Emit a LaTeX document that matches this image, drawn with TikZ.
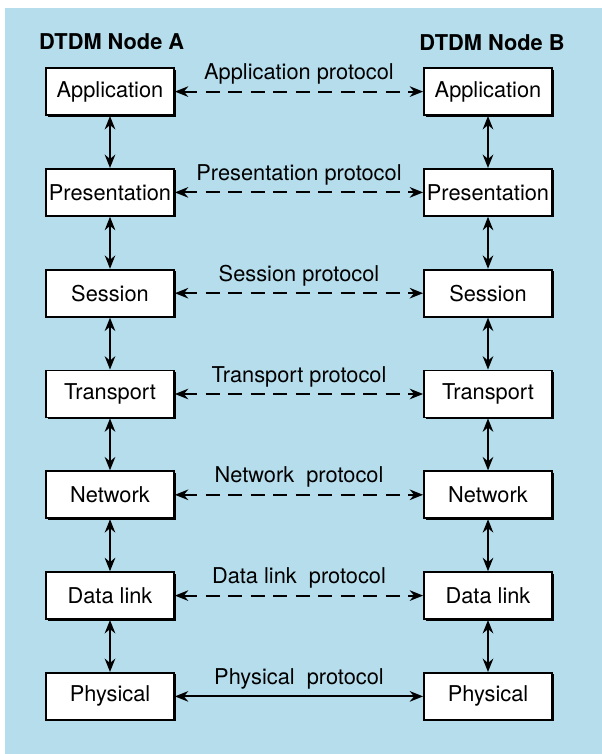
\documentclass[tikz,border=0pt]{standalone}
\usepackage{fontspec}
\setmainfont{TeX Gyre Heros}
\usetikzlibrary{arrows.meta,shadows}
\definecolor{paleblue}{RGB}{181,221,236}

\begin{document}
\begin{tikzpicture}[line width=1.3pt,
  layer/.style={draw,fill=white,minimum width=3.2cm,minimum height=1.175cm,inner sep=0pt,
    font=\fontsize{15.5}{18}\selectfont,
    drop shadow={shadow xshift=1.1pt,shadow yshift=-1.1pt,fill=black,opacity=1}},
  head/.style={font=\fontsize{15.5}{18}\selectfont\bfseries},
  lbl/.style={midway,anchor=base,yshift=8.5pt,font=\fontsize{15.5}{18}\selectfont},
  updown/.style={{Stealth[length=9.5pt,width=7.5pt]}-{Stealth[length=9.5pt,width=7.5pt]}},
  peer/.style={updown,dash pattern=on 10pt off 6pt}]
\useasboundingbox (0,0) rectangle (15.05,-18.85);
\fill[paleblue] (0.12,-0.2) rectangle (15.05,-18.85);
\node[head] (ha) at (2.79,-1.05) {DTDM Node A};
\node[head] (hb) at (12.3,-1.075) {DTDM Node B};
\node[layer] (a1) at (2.75,-2.29) {Application};
\node[layer] (a2) at (2.75,-4.81) {Presentation};
\node[layer] (a3) at (2.75,-7.33) {Session};
\node[layer] (a4) at (2.75,-9.85) {Transport};
\node[layer] (a5) at (2.75,-12.37) {Network};
\node[layer] (a6) at (2.75,-14.89) {Data link};
\node[layer] (a7) at (2.75,-17.41) {Physical};
\node[layer] (b1) at (12.2,-2.29) {Application};
\node[layer] (b2) at (12.2,-4.81) {Presentation};
\node[layer] (b3) at (12.2,-7.33) {Session};
\node[layer] (b4) at (12.2,-9.85) {Transport};
\node[layer] (b5) at (12.2,-12.37) {Network};
\node[layer] (b6) at (12.2,-14.89) {Data link};
\node[layer] (b7) at (12.2,-17.41) {Physical};
\draw[updown] (a1) -- (a2);
\draw[updown] (a2) -- (a3);
\draw[updown] (a3) -- (a4);
\draw[updown] (a4) -- (a5);
\draw[updown] (a5) -- (a6);
\draw[updown] (a6) -- (a7);
\draw[updown] (b1) -- (b2);
\draw[updown] (b2) -- (b3);
\draw[updown] (b3) -- (b4);
\draw[updown] (b4) -- (b5);
\draw[updown] (b5) -- (b6);
\draw[updown] (b6) -- (b7);
\draw[peer] (a1) -- node[lbl]{Application protocol} (b1);
\draw[peer] (a2) -- node[lbl]{Presentation protocol} (b2);
\draw[peer] (a3) -- node[lbl]{Session protocol} (b3);
\draw[peer] (a4) -- node[lbl]{Transport protocol} (b4);
\draw[peer] (a5) -- node[lbl]{Network\ \ protocol} (b5);
\draw[peer] (a6) -- node[lbl]{Data link\ \ protocol} (b6);
\draw[updown] (a7) -- node[lbl]{Physical\ \ protocol} (b7);
\end{tikzpicture}
\end{document}
